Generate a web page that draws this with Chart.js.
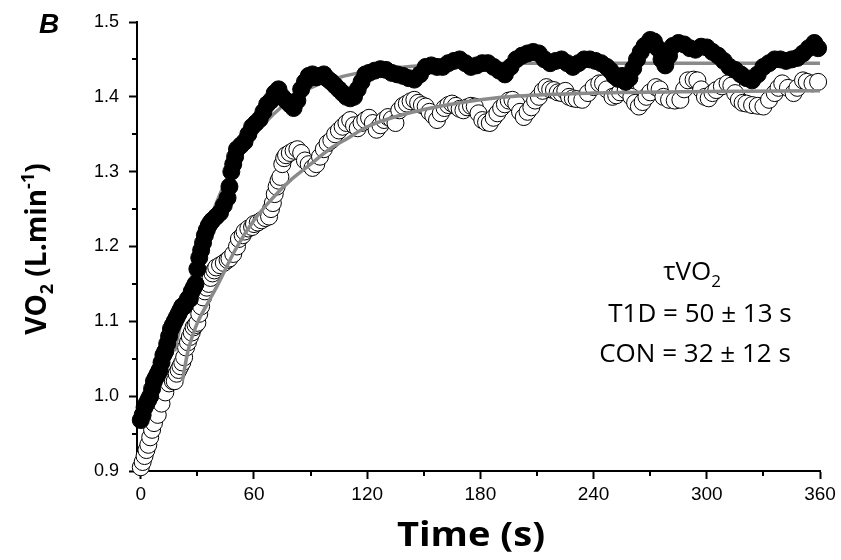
<!DOCTYPE html>
<html>
<head>
<meta charset="utf-8">
<script src="https://cdn.jsdelivr.net/npm/chart.js@4.4.1/dist/chart.umd.min.js"></script>
<style>
  html, body { margin: 0; padding: 0; background: #ffffff; }
  #wrap { width: 841px; height: 560px; position: relative; }
</style>
</head>
<body>
<div id="wrap"><canvas id="c" width="841" height="560"></canvas></div>
<script>
// ---------------- DATA ----------------
const xTickValues = [0, 60, 120, 180, 240, 300, 360];
const xMinorTicks = [30, 90, 150, 210, 270, 330];
const yTickValues = [0.9, 1.0, 1.1, 1.2, 1.3, 1.4, 1.5];
const yMinorTicks = [0.95, 1.05, 1.15, 1.25, 1.35, 1.45];

// CON (filled circles)
const conTime = [0,1,2,3,4,5,6,7,8,9,10,11,12,13,14,15,16,17,18,19,20,21,22,23,24,25,26,27,28,29,30,31,32,33,34,35,36,37,38,40,42,44,46,47,48,49,50,51,53,55,57,59,61,63,65,67,69,71,73,75,77,79,81,83,85,87,89,91,93,95,97,99,101,103,105,107,109,111,113,115,117,119,121,124,127,130,133,136,139,142,145,148,151,154,157,160,163,166,169,172,175,178,181,184,187,190,193,196,199,202,205,208,211,214,217,220,223,226,229,232,235,238,241,244,247,249,251,253,255,257,259,261,263,265,267,270,272,274,276,278,280,282,285,288,291,294,297,300,303,306,309,312,315,318,321,324,327,330,333,336,339,342,345,348,351,354,357,359];
const conVO2 = [0.968,0.975,0.985,0.99,0.995,1.0,1.01,1.02,1.025,1.03,1.035,1.045,1.055,1.06,1.07,1.08,1.09,1.095,1.10,1.105,1.11,1.115,1.12,1.12,1.125,1.13,1.13,1.14,1.145,1.15,1.17,1.185,1.195,1.205,1.215,1.222,1.228,1.232,1.235,1.24,1.245,1.255,1.265,1.28,1.30,1.31,1.32,1.33,1.335,1.34,1.35,1.36,1.365,1.37,1.38,1.39,1.395,1.405,1.41,1.40,1.395,1.39,1.385,1.395,1.41,1.42,1.428,1.43,1.426,1.428,1.43,1.424,1.42,1.415,1.41,1.405,1.40,1.398,1.40,1.41,1.42,1.43,1.432,1.435,1.437,1.436,1.432,1.43,1.428,1.425,1.423,1.43,1.44,1.442,1.44,1.44,1.445,1.448,1.45,1.445,1.44,1.442,1.445,1.445,1.44,1.435,1.43,1.44,1.45,1.455,1.458,1.46,1.458,1.45,1.445,1.448,1.45,1.445,1.44,1.445,1.45,1.45,1.448,1.445,1.44,1.435,1.428,1.424,1.428,1.42,1.425,1.438,1.45,1.46,1.468,1.476,1.474,1.465,1.45,1.442,1.455,1.468,1.472,1.47,1.465,1.463,1.467,1.466,1.46,1.455,1.448,1.44,1.436,1.43,1.425,1.422,1.43,1.44,1.445,1.45,1.45,1.448,1.45,1.452,1.458,1.465,1.472,1.465,1.453];

// T1D (open circles)
const t1dTime = [0,1,2,3,4,5,6,7,9,11,13,15,17,18,19,20,21,22,23,24,25,26,27,28,29,30,31,32,33,34,35,36,37,38,39,40,42,44,46,47,49,51,52,54,55,57,59,60,62,64,66,68,69,70,71,72,73,74,75,76,77,79,81,83,85,87,89,91,93,95,97,99,101,103,105,107,109,111,113,115,117,119,121,123,125,127,129,131,133,135,137,139,141,143,145,147,149,151,153,155,157,159,161,163,165,167,169,171,173,175,177,179,181,183,185,187,189,191,193,195,197,199,201,203,205,207,209,211,213,215,217,219,221,223,225,227,229,231,234,237,240,243,245,247,250,252,254,257,260,262,264,266,268,270,273,275,277,280,283,286,288,290,293,295,297,299,301,303,305,308,311,313,315,317,319,321,324,327,330,333,336,338,340,343,346,348,351,353,356,359];
const t1dVO2 = [0.905,0.912,0.92,0.928,0.935,0.945,0.955,0.964,0.975,0.99,1.005,1.017,1.02,1.02,1.03,1.035,1.04,1.045,1.052,1.065,1.072,1.079,1.085,1.092,1.095,1.098,1.11,1.12,1.132,1.14,1.145,1.15,1.158,1.164,1.168,1.172,1.175,1.178,1.182,1.184,1.19,1.20,1.21,1.215,1.22,1.224,1.226,1.23,1.232,1.235,1.238,1.24,1.25,1.258,1.27,1.28,1.288,1.293,1.31,1.318,1.322,1.325,1.328,1.33,1.325,1.315,1.31,1.305,1.31,1.32,1.33,1.338,1.342,1.35,1.355,1.36,1.365,1.369,1.362,1.358,1.365,1.369,1.372,1.365,1.356,1.362,1.369,1.373,1.37,1.365,1.382,1.388,1.391,1.394,1.396,1.392,1.389,1.387,1.38,1.375,1.369,1.378,1.385,1.389,1.391,1.388,1.384,1.382,1.386,1.388,1.387,1.378,1.369,1.366,1.365,1.372,1.378,1.385,1.39,1.395,1.396,1.391,1.38,1.373,1.38,1.386,1.395,1.40,1.408,1.413,1.41,1.409,1.406,1.405,1.408,1.40,1.398,1.397,1.396,1.405,1.413,1.418,1.418,1.41,1.40,1.402,1.406,1.409,1.40,1.392,1.387,1.393,1.40,1.406,1.413,1.41,1.40,1.396,1.395,1.396,1.41,1.422,1.423,1.422,1.41,1.40,1.398,1.405,1.409,1.414,1.418,1.415,1.405,1.396,1.392,1.391,1.389,1.388,1.387,1.396,1.405,1.412,1.418,1.412,1.405,1.412,1.422,1.42,1.418,1.42];

// Fitted mono-exponential curves (grey)
const conFitTime = [18,20,25,30,35,40,45,50,55,60,70,80,90,100,110,120,140,160,200,260,360];
const conFitVO2 = [1.06,1.084,1.14,1.185,1.225,1.258,1.287,1.31,1.33,1.348,1.376,1.397,1.412,1.422,1.429,1.434,1.44,1.443,1.445,1.445,1.445];
const t1dFitTime = [22,25,30,35,40,50,60,70,80,90,100,110,120,140,160,180,200,240,300,360];
const t1dFitVO2 = [1.02,1.06,1.098,1.122,1.145,1.195,1.235,1.265,1.29,1.31,1.33,1.345,1.36,1.377,1.388,1.396,1.401,1.405,1.407,1.408];

// ---------------- CHART ----------------
const pts = (xs, ys) => xs.map((x, i) => ({ x: x, y: ys[i] }));
const AXIS_FONT = 'Liberation Sans';
const TEXT_FONT = 'Open Sans';

const minorTicksPlugin = {
  id: 'minorTicks',
  afterDraw(chart) {
    const ctx = chart.ctx;
    const xs = chart.scales.x, ys = chart.scales.y;
    const area = chart.chartArea;
    ctx.save();
    ctx.strokeStyle = '#000';
    ctx.lineWidth = 2;
    ctx.beginPath();
    xMinorTicks.forEach(v => {
      const px = Math.round(xs.getPixelForValue(v));
      ctx.moveTo(px, area.bottom);
      ctx.lineTo(px, area.bottom + 5);
    });
    yMinorTicks.forEach(v => {
      const py = Math.round(ys.getPixelForValue(v));
      ctx.moveTo(area.left, py);
      ctx.lineTo(area.left - 5, py);
    });
    ctx.stroke();
    ctx.restore();
  }
};

function drawRich(ctx, parts, cx, cy, rot, sx) {
  ctx.save();
  ctx.translate(cx, cy);
  ctx.rotate(rot);
  if (sx) ctx.scale(sx, 1);
  let total = 0;
  parts.forEach(p => { ctx.font = p.font; p.w = ctx.measureText(p.text).width; total += p.w; });
  let x = -total / 2;
  ctx.textAlign = 'left';
  ctx.textBaseline = 'alphabetic';
  ctx.fillStyle = '#000';
  parts.forEach(p => { ctx.font = p.font; ctx.fillText(p.text, x, p.dy); x += p.w; });
  ctx.restore();
}

const textPlugin = {
  id: 'texts',
  afterDraw(chart) {
    const ctx = chart.ctx;
    // panel letter
    ctx.save();
    ctx.fillStyle = '#000';
    ctx.font = 'italic bold 28px "' + AXIS_FONT + '"';
    ctx.textAlign = 'left';
    ctx.textBaseline = 'alphabetic';
    ctx.fillText('B', 39, 33);
    ctx.restore();
    // x-axis title
    drawRich(ctx, [{ text: 'Time (s)', font: 'bold 34px "' + TEXT_FONT + '"', dy: 0 }], 471, 546, 0, 1.12);
    // y-axis title with subscript / superscript
    const tb = 'bold 28px "' + TEXT_FONT + '"';
    const ts = 'bold 18px "' + TEXT_FONT + '"';
    drawRich(ctx, [
      { text: 'VO', font: tb, dy: 0 },
      { text: '2', font: ts, dy: 7 },
      { text: ' (L.min', font: tb, dy: 0 },
      { text: '-1', font: ts, dy: -12 },
      { text: ')', font: tb, dy: 0 }
    ], 46, 249, -Math.PI / 2);
    // tau annotation
    const ar = '26px "' + TEXT_FONT + '"';
    const as = '17px "' + TEXT_FONT + '"';
    drawRich(ctx, [
      { text: 'τVO', font: ar, dy: 0 },
      { text: '2', font: as, dy: 7 }
    ], 692, 280, 0);
    drawRich(ctx, [{ text: 'T1D = 50 ± 13 s', font: ar, dy: 0 }], 700, 322, 0);
    drawRich(ctx, [{ text: 'CON = 32 ± 12 s', font: ar, dy: 0 }], 695, 362, 0);
  }
};

new Chart(document.getElementById('c'), {
  type: 'scatter',
  data: {
    datasets: [
      {
        label: 'CON',
        data: pts(conTime, conVO2),
        pointRadius: 8.5,
        pointBackgroundColor: '#000',
        pointBorderColor: '#000',
        pointBorderWidth: 1,
        showLine: false,
        order: 0
      },
      {
        label: 'CON fit',
        data: pts(conFitTime, conFitVO2),
        showLine: true,
        pointRadius: 0,
        borderColor: '#8a8a8a',
        borderWidth: 3.5,
        cubicInterpolationMode: 'monotone',
        order: 1
      },
      {
        label: 'T1D fit',
        data: pts(t1dFitTime, t1dFitVO2),
        showLine: true,
        pointRadius: 0,
        borderColor: '#8a8a8a',
        borderWidth: 3.5,
        cubicInterpolationMode: 'monotone',
        order: 2
      },
      {
        label: 'T1D',
        data: pts(t1dTime, t1dVO2),
        pointRadius: 8.5,
        pointBackgroundColor: '#fff',
        pointBorderColor: '#000',
        pointBorderWidth: 1,
        showLine: false,
        order: 3
      }
    ]
  },
  options: {
    responsive: false,
    animation: false,
    devicePixelRatio: 1,
    clip: false,
    layout: { padding: { left: 0, right: 21, top: 22, bottom: 0 } },
    plugins: {
      legend: { display: false },
      tooltip: { enabled: false },
      title: { display: false }
    },
    scales: {
      x: {
        type: 'linear',
        min: -2,
        max: 360,
        afterBuildTicks(scale) { scale.ticks = xTickValues.map(v => ({ value: v })); },
        afterFit(scale) { scale.height = 89; },
        border: { display: true, color: '#000', width: 2 },
        grid: { display: true, drawOnChartArea: false, drawTicks: true, tickLength: 8, tickWidth: 2, tickColor: '#000', color: '#000' },
        ticks: { color: '#000', padding: 4, maxRotation: 0, font: { family: AXIS_FONT, size: 19 }, callback: v => String(v) },
        title: { display: false }
      },
      y: {
        type: 'linear',
        min: 0.9,
        max: 1.5,
        afterBuildTicks(scale) { scale.ticks = yTickValues.map(v => ({ value: v })); },
        afterFit(scale) { scale.width = 137; },
        border: { display: true, color: '#000', width: 2 },
        grid: { display: true, drawOnChartArea: false, drawTicks: true, tickLength: 8, tickWidth: 2, tickColor: '#000', color: '#000' },
        ticks: { color: '#000', padding: 10, font: { family: AXIS_FONT, size: 18 }, callback: v => v.toFixed(1) },
        title: { display: false }
      }
    }
  },
  plugins: [minorTicksPlugin, textPlugin]
});
</script>
</body>
</html>
